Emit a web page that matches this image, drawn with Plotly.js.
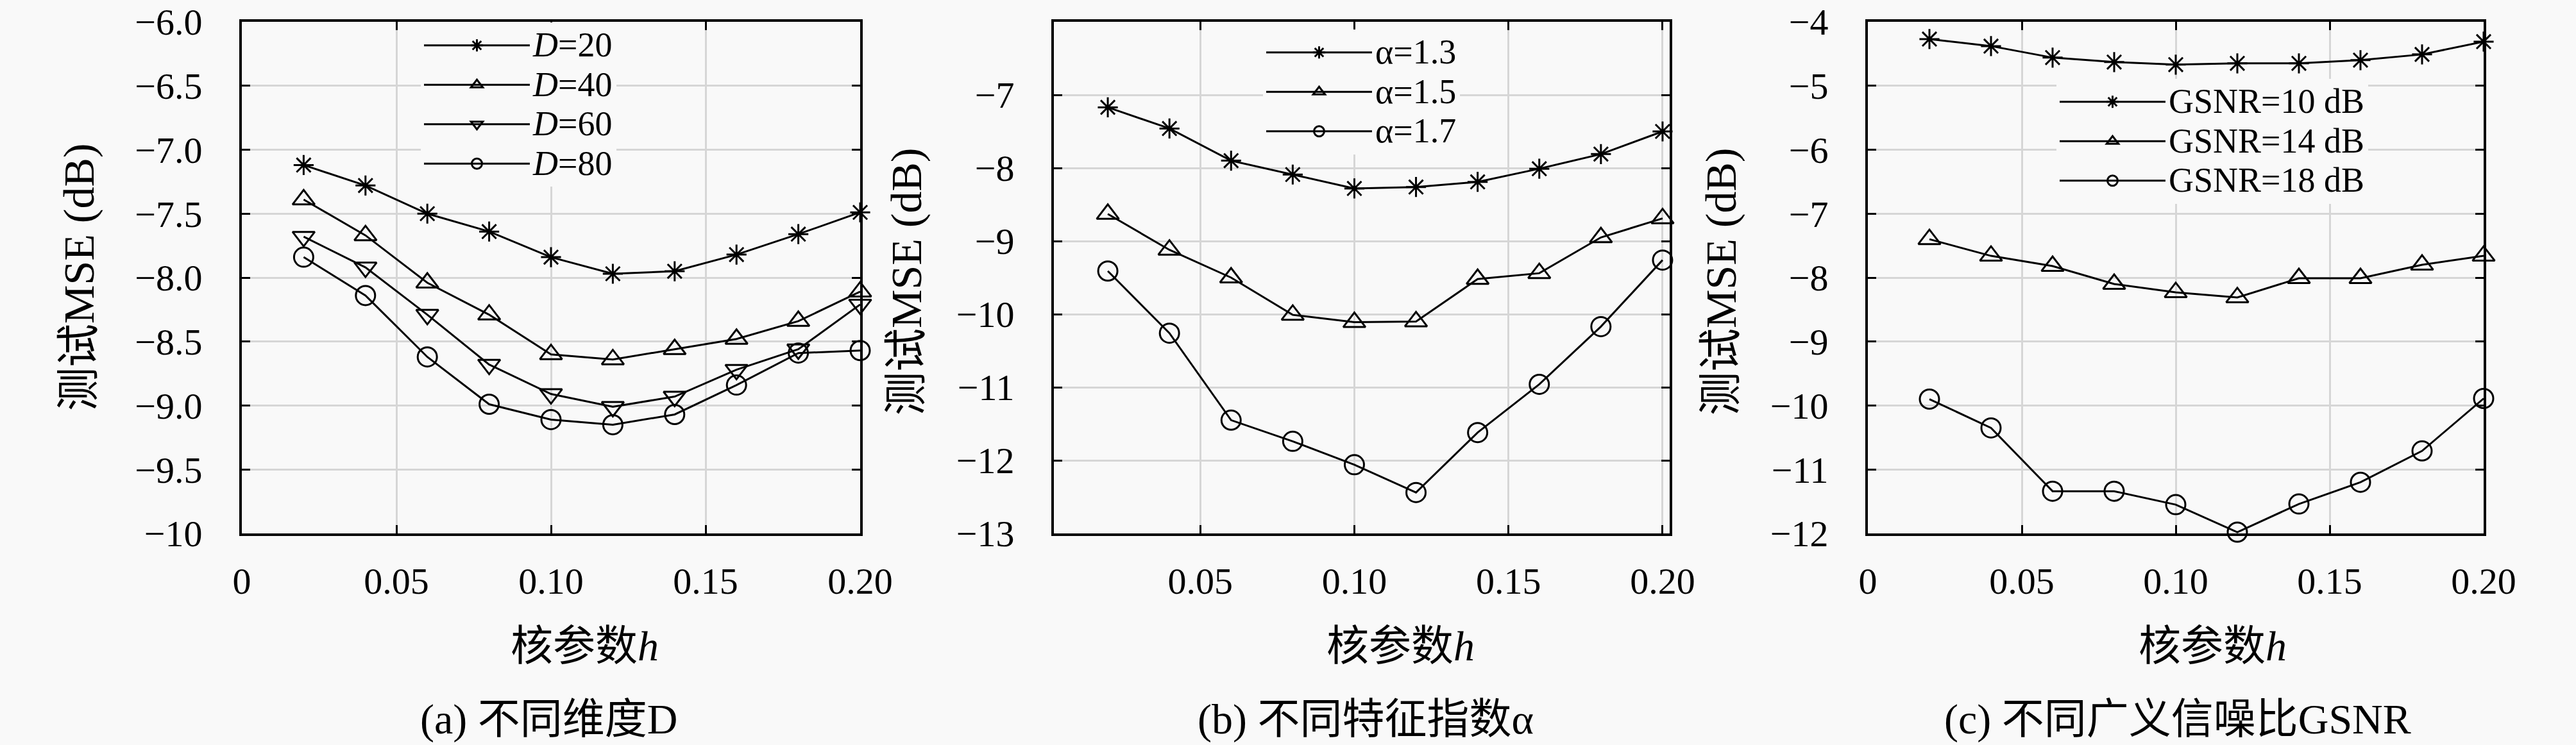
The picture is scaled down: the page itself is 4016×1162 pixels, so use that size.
<!DOCTYPE html>
<html>
<head>
<meta charset="utf-8">
<script src="https://cdn.plot.ly/plotly-3.0.1.min.js"></script>
<style>html,body{margin:0;padding:0;background:#f9f9f9;}</style>
</head>
<body>
<div id="chart" style="width:4016px;height:1162px;"></div>
<script>
// ---- data ----
const hValues = [0.02, 0.04, 0.06, 0.08, 0.10, 0.12, 0.14, 0.16, 0.18, 0.20];

// panel (a): different dimension D
const mseD20 = [-7.12, -7.28, -7.50, -7.64, -7.84, -7.97, -7.95, -7.82, -7.66, -7.49];
const mseD40 = [-7.39, -7.67, -8.04, -8.29, -8.60, -8.64, -8.56, -8.48, -8.34, -8.11];
const mseD60 = [-7.68, -7.92, -8.29, -8.68, -8.91, -9.01, -8.93, -8.72, -8.56, -8.21];
const mseD80 = [-7.84, -8.14, -8.62, -8.99, -9.11, -9.15, -9.07, -8.84, -8.59, -8.57];
const namesA = ['<i>D</i>=20', '<i>D</i>=40', '<i>D</i>=60', '<i>D</i>=80'];

// panel (b): different characteristic exponent alpha
const mseA13 = [-7.17, -7.46, -7.90, -8.09, -8.28, -8.26, -8.19, -8.01, -7.81, -7.50];
const mseA15 = [-8.63, -9.12, -9.50, -10.01, -10.11, -10.10, -9.52, -9.44, -8.95, -8.69];
const mseA17 = [-9.41, -10.26, -11.45, -11.74, -12.06, -12.44, -11.62, -10.96, -10.17, -9.26];
const namesB = ['α=1.3', 'α=1.5', 'α=1.7'];

// panel (c): different GSNR
const mseG10 = [-4.27, -4.38, -4.56, -4.63, -4.67, -4.65, -4.65, -4.60, -4.51, -4.31];
const mseG14 = [-7.40, -7.66, -7.82, -8.10, -8.23, -8.31, -8.01, -8.01, -7.80, -7.66];
const mseG18 = [-9.90, -10.35, -11.34, -11.34, -11.55, -11.98, -11.54, -11.20, -10.71, -9.89];
const namesC = ['GSNR=10 dB', 'GSNR=14 dB', 'GSNR=18 dB'];

// tick labels
const xTickValsAC = [0, 0.05, 0.10, 0.15, 0.20];
const xTickTextAC = ['0', '0.05', '0.10', '0.15', '0.20'];
const xTickValsB = [0.05, 0.10, 0.15, 0.20];
const xTickTextB = ['0.05', '0.10', '0.15', '0.20'];
const yTickValsA = [-6.0, -6.5, -7.0, -7.5, -8.0, -8.5, -9.0, -9.5, -10];
const yTickTextA = ['−6.0', '−6.5', '−7.0', '−7.5', '−8.0', '−8.5', '−9.0', '−9.5', '−10'];
const yTickValsB = [-7, -8, -9, -10, -11, -12, -13];
const yTickTextB = ['−7', '−8', '−9', '−10', '−11', '−12', '−13'];
const yTickValsC = [-4, -5, -6, -7, -8, -9, -10, -11, -12];
const yTickTextC = ['−4', '−5', '−6', '−7', '−8', '−9', '−10', '−11', '−12'];

const yTitle = '测试MSE (dB)';
const xTitle = '核参数<i>h</i>';
const captions = ['(a) 不同维度D', '(b) 不同特征指数α', '(c) 不同广义信噪比GSNR'];

// ---- styles ----
const BG = '#f9f9f9';
const SERIF = 'Liberation Serif, "Noto Sans CJK SC", serif';
const symbols = ['asterisk-open', 'triangle-up-open', 'triangle-down-open', 'circle-open'];
const symSizes = {'asterisk-open': 26, 'triangle-up-open': 30, 'triangle-down-open': 30, 'circle-open': 30};

function mkTrace(y, name, sym, xa, ya, leg) {
  return {
    x: hValues, y: y, name: '<span style="font-size:54px">' + name + '</span>',
    type: 'scatter', mode: 'lines+markers',
    xaxis: xa, yaxis: ya, legend: leg,
    cliponaxis: false,
    line: {color: '#000', width: 3},
    marker: {symbol: sym, size: symSizes[sym], color: '#000', line: {color: '#000', width: 3}}
  };
}

const data = [
  mkTrace(mseD20, namesA[0], symbols[0], 'x', 'y', 'legend'),
  mkTrace(mseD40, namesA[1], symbols[1], 'x', 'y', 'legend'),
  mkTrace(mseD60, namesA[2], symbols[2], 'x', 'y', 'legend'),
  mkTrace(mseD80, namesA[3], symbols[3], 'x', 'y', 'legend'),
  mkTrace(mseA13, namesB[0], symbols[0], 'x2', 'y2', 'legend2'),
  mkTrace(mseA15, namesB[1], symbols[1], 'x2', 'y2', 'legend2'),
  mkTrace(mseA17, namesB[2], symbols[3], 'x2', 'y2', 'legend2'),
  mkTrace(mseG10, namesC[0], symbols[0], 'x3', 'y3', 'legend3'),
  mkTrace(mseG14, namesC[1], symbols[1], 'x3', 'y3', 'legend3'),
  mkTrace(mseG18, namesC[2], symbols[3], 'x3', 'y3', 'legend3')
];

const W = 4016, H = 1162;
const px = v => v / W;
const py = v => (H - v) / H;

function axisBase(extra) {
  return Object.assign({
    showline: true, linecolor: '#000', linewidth: 4, mirror: 'ticks',
    ticks: 'inside', ticklen: 13, tickwidth: 3, tickcolor: '#000',
    showgrid: true, gridcolor: '#d6d6d6', gridwidth: 3,
    zeroline: false, tickmode: 'array',
    ticklabeloverflow: 'allow',
    tickfont: {family: SERIF, size: 58, color: '#000'},
    fixedrange: true
  }, extra);
}

const yDom = [py(832), py(34)];

function legendCfg(left, top) {
  return {
    x: px(left), y: py(top), xanchor: 'left', yanchor: 'top',
    bgcolor: BG, borderwidth: 0, itemwidth: 165, tracegroupgap: 0,
    traceorder: 'normal',
    font: {family: SERIF, size: 45, color: '#000'}
  };
}

function ann(text, x, y, size, angle) {
  return {
    text: text, xref: 'paper', yref: 'paper', x: x, y: y,
    xanchor: 'center', yanchor: 'middle', showarrow: false,
    textangle: angle || 0,
    font: {family: SERIF, size: size, color: '#000'}
  };
}

const XSO = 20, YSO = 46;

const layout = {
  width: W, height: H,
  margin: {l: 0, r: 0, t: 0, b: 0},
  paper_bgcolor: BG, plot_bgcolor: BG,
  showlegend: true,
  xaxis: axisBase({domain: [px(377), px(1341)], range: [0, 0.2], tickvals: xTickValsAC, ticktext: xTickTextAC, anchor: 'y', ticklabelstandoff: XSO}),
  yaxis: axisBase({domain: yDom, range: [-10, -6], tickvals: yTickValsA, ticktext: yTickTextA, anchor: 'x', ticklabelstandoff: YSO}),
  xaxis2: axisBase({domain: [px(1643), px(2603)], range: [0.0025, 0.2023], tickvals: xTickValsB, ticktext: xTickTextB, anchor: 'y2', ticklabelstandoff: XSO}),
  yaxis2: axisBase({domain: yDom, range: [-13, -6], tickvals: yTickValsB, ticktext: yTickTextB, anchor: 'x2', ticklabelstandoff: YSO}),
  xaxis3: axisBase({domain: [px(2912), px(3872)], range: [0, 0.2], tickvals: xTickValsAC, ticktext: xTickTextAC, anchor: 'y3', ticklabelstandoff: XSO}),
  yaxis3: axisBase({domain: yDom, range: [-12, -4], tickvals: yTickValsC, ticktext: yTickTextC, anchor: 'x3', ticklabelstandoff: YSO}),
  legend: legendCfg(656, 35),
  legend2: legendCfg(1969, 46),
  legend3: legendCfg(3206, 123),
  annotations: [
    ann(yTitle, px(123), py(433), 68, -90),
    ann(yTitle, px(1413), py(440), 68, -90),
    ann(yTitle, px(2683), py(440), 68, -90),
    ann(xTitle, px(911), py(1007), 66),
    ann(xTitle, px(2183), py(1007), 66),
    ann(xTitle, px(3449), py(1007), 66),
    ann(captions[0], px(855), py(1122), 66),
    ann(captions[1], px(2129), py(1122), 66),
    ann(captions[2], px(3395), py(1122), 66)
  ]
};

Plotly.newPlot('chart', data, layout, {staticPlot: true, displayModeBar: false});
</script>
</body>
</html>
